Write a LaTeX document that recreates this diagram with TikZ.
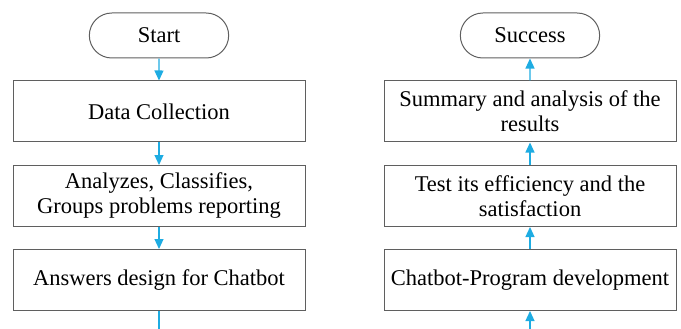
\documentclass[tikz,border=0pt]{standalone}
\usepackage{fontspec}
\setmainfont{Liberation Serif}
\usetikzlibrary{shapes.misc,arrows.meta}
\definecolor{flowblue}{RGB}{30,172,226}
\definecolor{boxgray}{RGB}{95,95,95}

\tikzset{
  procbox/.style={draw=boxgray, line width=1pt, minimum width=292pt, minimum height=61pt,
    align=center, font=\fontsize{22.5}{25}\selectfont, inner sep=2pt},
  termbox/.style={draw=boxgray, line width=1pt, rounded rectangle, minimum width=146pt,
    minimum height=45pt, font=\fontsize{22.5}{25}\selectfont},
  flow/.style={draw=flowblue, line width=1.2pt, -{Triangle[length=10pt,width=9pt]}},
  flowline/.style={draw=flowblue, line width=1.2pt}
}

\begin{document}
\begin{tikzpicture}[x=1pt, y=-1pt]
  \useasboundingbox (0,0) rectangle (681,329);
  % left column
  \node[termbox] (start) at (159,35.5) {Start};
  \node[procbox] (collect) at (159,111.5) {Data Collection};
  \node[procbox] (analyze) at (159,196) {Analyzes, Classifies,\\Groups problems reporting};
  \node[procbox] (answers) at (159,280) {Answers design for Chatbot};
  \coordinate (leftend) at (159,329);
  % right column
  \node[termbox] (success) at (530,35.5) {Success};
  \node[procbox] (summary) at (530,111.5) {Summary and analysis of the\\results};
  \node[procbox] (test) at (530,196) {Test its efficiency and the\\satisfaction};
  \node[procbox] (develop) at (530,280) {Chatbot-Program development};
  \coordinate (rightend) at (530,329);
  % connectors
  \draw[flow] (start) -- (collect);
  \draw[flow] (collect) -- (analyze);
  \draw[flow] (analyze) -- (answers);
  \draw[flowline] (answers) -- (leftend);
  \draw[flow] (rightend) -- (develop);
  \draw[flow] (develop) -- (test);
  \draw[flow] (test) -- (summary);
  \draw[flow] (summary) -- (success);
\end{tikzpicture}
\end{document}
